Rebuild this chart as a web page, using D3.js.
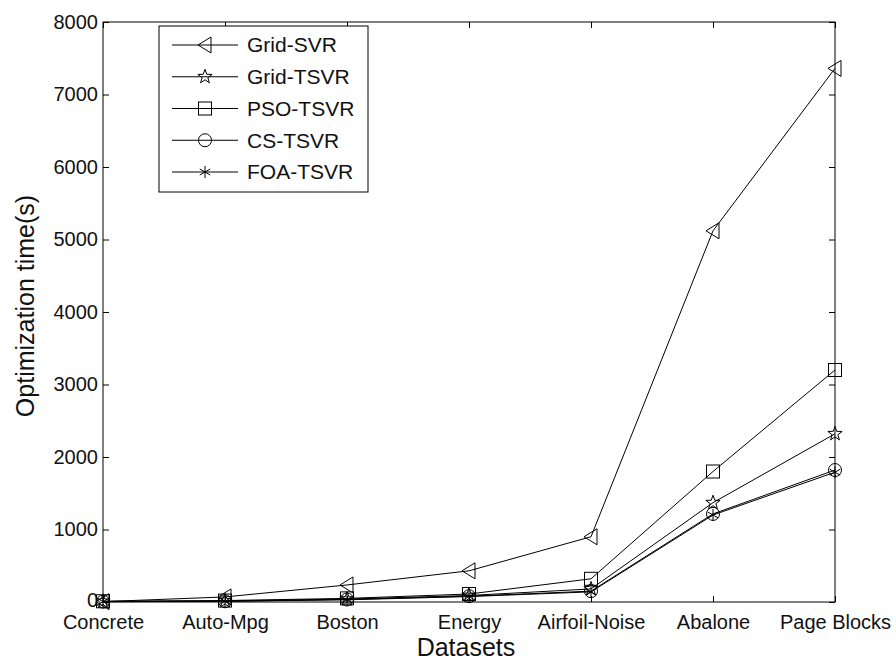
<!DOCTYPE html>
<html><head><meta charset="utf-8">
<script src="https://cdn.jsdelivr.net/npm/d3@7/dist/d3.min.js"></script>
<style>body{margin:0;background:#fff;}svg{display:block;}text{font-family:"Liberation Sans",Arial,sans-serif;fill:#111;}</style>
</head><body><svg id="c" width="896" height="664"></svg>
<script>
const categories = ["Concrete","Auto-Mpg","Boston","Energy","Airfoil-Noise","Abalone","Page Blocks"];
const seriesNames = ["Grid-SVR","Grid-TSVR","PSO-TSVR","CS-TSVR","FOA-TSVR"];
const gridSVR  = [5, 70, 235, 430, 900, 5120, 7360];
const gridTSVR = [8, 15, 40, 90, 180, 1370, 2320];
const psoTSVR  = [10, 20, 50, 110, 320, 1800, 3200];
const csTSVR   = [5, 10, 35, 80, 150, 1215, 1820];
const foaTSVR  = [5, 10, 30, 75, 140, 1200, 1790];
const yTicks = [0,1000,2000,3000,4000,5000,6000,7000,8000];
const markers = ["triangle","star","square","circle","asterisk"];
const seriesValues = [gridSVR, gridTSVR, psoTSVR, csTSVR, foaTSVR];

const svg = d3.select("#c");
const L=103, R=835, T=22, B=602;
const x = d3.scalePoint().domain(categories).range([L,R]);
const y = d3.scaleLinear().domain([0,8000]).range([B,T]);

// frame
svg.append("rect").attr("x",L).attr("y",T).attr("width",R-L).attr("height",B-T)
  .attr("fill","none").attr("stroke","#000").attr("stroke-width",1);

const tk=6;
// bottom axis
const xb = svg.append("g").attr("transform",`translate(0,${B})`)
  .call(d3.axisBottom(x).tickSizeInner(-tk).tickSizeOuter(0).tickPadding(13));
xb.select(".domain").remove();
xb.selectAll("text").attr("font-size",20).attr("fill","#111").attr("dy","0.71em");
// top ticks
const xt = svg.append("g").attr("transform",`translate(0,${T})`)
  .call(d3.axisTop(x).tickSizeInner(-tk).tickSizeOuter(0).tickFormat(""));
xt.select(".domain").remove();
// left axis
const yl = svg.append("g").attr("transform",`translate(${L},0)`)
  .call(d3.axisLeft(y).tickValues(yTicks).tickSizeInner(-tk).tickSizeOuter(0).tickPadding(5).tickFormat(d3.format("d")));
yl.select(".domain").remove();
yl.selectAll("text").attr("font-size",20).attr("fill","#111");
yl.selectAll(".tick").filter(d=>d===0).select("text").attr("dy","0.2em");
const yr = svg.append("g").attr("transform",`translate(${R},0)`)
  .call(d3.axisRight(y).tickValues(yTicks).tickSizeInner(-tk).tickSizeOuter(0).tickFormat(""));
yr.select(".domain").remove();
svg.selectAll(".tick line").attr("stroke","#000");

// axis titles
svg.append("text").attr("x",466).attr("y",656).attr("text-anchor","middle").attr("font-size",25).text("Datasets");
svg.append("text").attr("transform",`translate(34,306) rotate(-90)`).attr("text-anchor","middle").attr("font-size",25).text("Optimization time(s)");

function drawMarker(g, type){
  const s = g.append("g");
  if(type==="triangle"){
    s.append("path").attr("d","M-7,0 L6,-8 L6,8 Z");
  } else if(type==="square"){
    s.append("rect").attr("x",-6.5).attr("y",-6.5).attr("width",13).attr("height",13);
  } else if(type==="circle"){
    s.append("circle").attr("r",6.5);
  } else if(type==="star"){
    const pts=[];
    for(let i=0;i<10;i++){const r=i%2?3:7.5;const a=-Math.PI/2+i*Math.PI/5;pts.push([r*Math.cos(a),r*Math.sin(a)]);}
    s.append("path").attr("d","M"+pts.map(p=>p.join(",")).join("L")+"Z");
  } else if(type==="asterisk"){
    const r=6;
    s.append("path").attr("d",`M0,${-r}V${r}M${-r*0.87},${-r*0.5}L${r*0.87},${r*0.5}M${-r*0.87},${r*0.5}L${r*0.87},${-r*0.5}`);
  }
  s.selectAll("*").attr("fill","none").attr("stroke","#000").attr("stroke-width",1);
  return s;
}

const line = d3.line().x((d,i)=>x(categories[i])).y(d=>y(d));
seriesValues.forEach((vals,k)=>{
  svg.append("path").datum(vals).attr("d",line).attr("fill","none").attr("stroke","#000").attr("stroke-width",1);
  vals.forEach((v,i)=>{
    drawMarker(svg, markers[k]).attr("transform",`translate(${x(categories[i])},${y(v)})`);
  });
});

// legend
const lg = svg.append("g");
lg.append("rect").attr("x",159).attr("y",26).attr("width",209).attr("height",166)
  .attr("fill","#fff").attr("stroke","#000").attr("stroke-width",1);
const legendY = d3.scalePoint().domain(seriesNames).range([45,172]);
seriesNames.forEach((n,k)=>{
  const yy = legendY(n);
  lg.append("line").attr("x1",172).attr("x2",238).attr("y1",yy).attr("y2",yy).attr("stroke","#000");
  drawMarker(lg, markers[k]).attr("transform",`translate(205,${yy})`);
  lg.append("text").attr("x",247).attr("y",yy).attr("dy","0.35em").attr("font-size",21).text(n);
});
</script></body></html>
